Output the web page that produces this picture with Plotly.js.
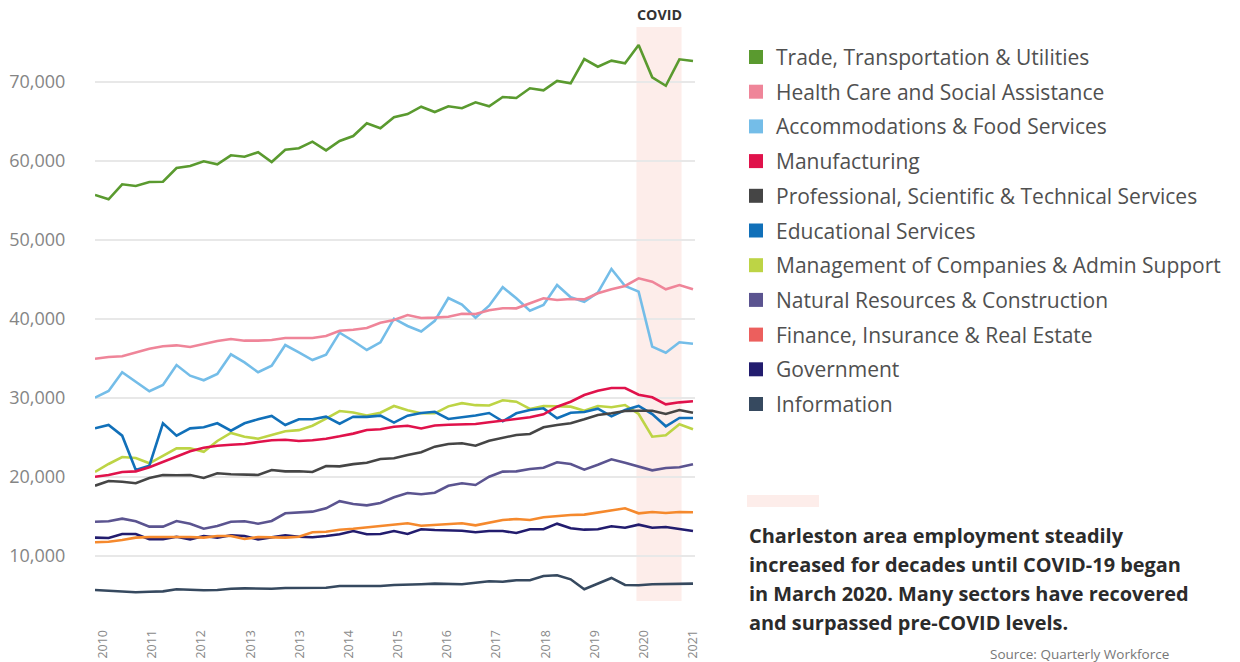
<!DOCTYPE html>
<html>
<head>
<meta charset="utf-8">
<script src="https://cdn.plot.ly/plotly-3.0.1.min.js"></script>
<style>
  html, body { margin: 0; padding: 0; background: #ffffff; }
  #chart { width: 1240px; height: 662px; }
</style>
</head>
<body>
<div id="chart"></div>
<script>
// Quarterly periods, 2010 Q1 .. 2021 Q1 (as decimal years)
const quarters = [
  2010.00, 2010.25, 2010.50, 2010.75, 2011.00, 2011.25, 2011.50, 2011.75,
  2012.00, 2012.25, 2012.50, 2012.75, 2013.00, 2013.25, 2013.50, 2013.75,
  2014.00, 2014.25, 2014.50, 2014.75, 2015.00, 2015.25, 2015.50, 2015.75,
  2016.00, 2016.25, 2016.50, 2016.75, 2017.00, 2017.25, 2017.50, 2017.75,
  2018.00, 2018.25, 2018.50, 2018.75, 2019.00, 2019.25, 2019.50, 2019.75,
  2020.00, 2020.25, 2020.50, 2020.75, 2021.00
];

const seriesNames = [
  "Trade, Transportation & Utilities",
  "Health Care and Social Assistance",
  "Accommodations & Food Services",
  "Manufacturing",
  "Professional, Scientific & Technical Services",
  "Educational Services",
  "Management of Companies & Admin Support",
  "Natural Resources & Construction",
  "Finance, Insurance & Real Estate",
  "Government",
  "Information"
];

const lineColors = ["#5a9a2f", "#ef8599", "#74bde8", "#e0124b", "#454545", "#1170b9",
                    "#bdd445", "#5b5490", "#f5892d", "#221c6e", "#36495f"];
const legendColors = ["#5a9a2f", "#ef8599", "#74bde8", "#e0124b", "#454545", "#1170b9",
                      "#bdd445", "#5b5490", "#ec5f5d", "#221c6e", "#36495f"];

const trade = [55670, 55120, 57020, 56810, 57310, 57350, 59080, 59340, 59930, 59550, 60690, 60510,
  61070, 59840, 61400, 61580, 62410, 61320, 62500, 63130, 64740, 64110, 65500, 65910, 66840, 66170,
  66890, 66640, 67390, 66890, 68070, 67940, 69170, 68910, 70090, 69800, 72870, 71900, 72660, 72330,
  74640, 70560, 69490, 72830, 72620];
const health = [34960, 35170, 35260, 35720, 36220, 36530, 36650, 36440, 36860, 37200, 37450, 37240,
  37240, 37320, 37580, 37540, 37580, 37830, 38500, 38630, 38840, 39510, 39860, 40490, 40110, 40150,
  40270, 40650, 40610, 41100, 41350, 41330, 41920, 42600, 42390, 42510, 42470, 43230, 43740, 44160,
  45130, 44700, 43740, 44280, 43740];
const accommodations = [30030, 30870, 33240, 32010, 30840, 31630, 34160, 32810, 32230, 33020, 35520, 34500,
  33240, 34070, 36690, 35770, 34790, 35470, 38250, 37200, 36060, 37030, 40020, 39100, 38400, 39750,
  42640, 41800, 40150, 41660, 44000, 42600, 41030, 41750, 44280, 42730, 42170, 43310, 46310, 44160,
  43440, 36480, 35720, 37030, 36860];
const manufacturing = [20030, 20250, 20630, 20710, 21220, 21890, 22650, 23250, 23700, 23950, 24080, 24170,
  24420, 24640, 24710, 24550, 24640, 24840, 25140, 25480, 25940, 26030, 26360, 26480, 26130, 26510,
  26610, 26610, 26700, 26910, 27120, 27330, 27540, 27930, 28890, 29520, 30370, 30910, 31250, 31250,
  30410, 30080, 29190, 29440, 29570];
const professional = [18890, 19490, 19400, 19200, 19870, 20250, 20210, 20250, 19870, 20460, 20340, 20250,
  20250, 20880, 20710, 20730, 20630, 21380, 21340, 21620, 21800, 22270, 22360, 22780, 23120, 23830,
  24170, 24260, 23950, 24590, 24970, 25310, 25430, 26280, 26570, 26790, 27290, 27840, 28050, 28340,
  28380, 28380, 27960, 28470, 28130];
const educational = [26150, 26570, 25220, 20880, 21420, 26790, 25220, 26150, 26280, 26790, 25850, 26790,
  27290, 27710, 26570, 27290, 27290, 27620, 26740, 27620, 27600, 27750, 26870, 27750, 28090, 28240,
  27330, 27540, 27770, 28090, 27040, 28050, 28470, 28680, 27420, 28130, 28220, 28630, 27670, 28470,
  28980, 27960, 26410, 27460, 27460];
const management = [20630, 21640, 22520, 22400, 21730, 22690, 23620, 23620, 23190, 24550, 25560, 25090,
  24840, 25310, 25780, 25920, 26480, 27370, 28340, 28150, 27770, 28130, 28980, 28430, 28050, 28050,
  28930, 29340, 29080, 29040, 29700, 29520, 28600, 28980, 28980, 28890, 28380, 28980, 28810, 29100,
  27960, 25090, 25270, 26660, 26030];
const naturalResources = [14340, 14390, 14720, 14390, 13710, 13710, 14430, 14090, 13450, 13800, 14340, 14390,
  14090, 14430, 15400, 15530, 15610, 16030, 16930, 16580, 16410, 16700, 17430, 17970, 17810, 18010,
  18890, 19200, 18980, 20030, 20670, 20710, 21010, 21170, 21850, 21640, 20920, 21550, 22230, 21800,
  21350, 20840, 21130, 21220, 21600];
const finance = [11730, 11810, 12020, 12320, 12400, 12400, 12440, 12400, 12320, 12530, 12530, 12150,
  12400, 12320, 12320, 12440, 13000, 13070, 13330, 13450, 13630, 13800, 14010, 14140, 13830, 13920,
  14010, 14140, 13880, 14210, 14550, 14680, 14550, 14900, 15060, 15190, 15230, 15480, 15820, 16030,
  15400, 15570, 15440, 15570, 15530];
const government = [12320, 12280, 12780, 12780, 12110, 12110, 12440, 12110, 12530, 12320, 12620, 12530,
  12110, 12320, 12620, 12440, 12370, 12530, 12760, 13160, 12750, 12780, 13160, 12780, 13380, 13290,
  13290, 13200, 13000, 13160, 13160, 12910, 13380, 13380, 14090, 13500, 13330, 13380, 13760, 13580,
  13960, 13580, 13670, 13450, 13160];
const information = [5700, 5610, 5480, 5410, 5480, 5530, 5790, 5700, 5660, 5700, 5860, 5910,
  5860, 5860, 5950, 5950, 5910, 5990, 6200, 6200, 6120, 6200, 6330, 6420, 6420, 6500,
  6420, 6420, 6620, 6800, 6750, 6930, 6930, 7470, 7560, 7050, 5790, 6550, 7220, 6330,
  6290, 6420, 6420, 6500, 6500];

const seriesValues = [trade, health, accommodations, manufacturing, professional, educational,
  management, naturalResources, finance, government, information];

// Axis tick labels (as printed on the original chart)
const xTickText = ["2010", "2011", "2012", "2013", "2013", "2014", "2015", "2016", "2017", "2018", "2019", "2020", "2021"];
const xTickVals = [2010.146, 2011.05, 2011.955, 2012.86, 2013.764, 2014.669, 2015.573, 2016.478, 2017.382, 2018.287, 2019.191, 2020.096, 2021.0];
const yTickVals = [10000, 20000, 30000, 40000, 50000, 60000, 70000];

const covidStart = 2019.96, covidEnd = 2020.79;

const descriptionLines = [
  "Charleston area employment steadily",
  "increased for decades until COVID-19 began",
  "in March 2020. Many sectors have recovered",
  "and surpassed pre-COVID levels."
];
const sourceText = "Source: Quarterly Workforce";

const FONT = "'Open Sans', Lato, sans-serif";

// plot area in pixels: left 95, right 695, top 27, bottom 601
const PL = 95, PR = 695, PT = 27, PB = 601;
const px2x = p => (p - PL) / (PR - PL);
const py2y = p => (PB - p) / (PB - PT);

// traces: drawn in reverse so the first series sits on top
const traces = seriesNames.map((name, i) => ({
  type: "scatter",
  mode: "lines",
  name: name,
  x: quarters,
  y: seriesValues[i],
  line: { color: lineColors[i], width: 2.6 },
  hoverinfo: "x+y+name",
  showlegend: false
})).reverse();

const shapes = [
  { type: "rect", xref: "x", yref: "paper", x0: covidStart, x1: covidEnd, y0: 0, y1: 1,
    fillcolor: "#fdedea", line: { width: 0 }, layer: "below" },
  { type: "rect", xref: "paper", yref: "paper", x0: px2x(747), x1: px2x(819), y0: py2y(507), y1: py2y(495),
    fillcolor: "#fdedea", line: { width: 0 } }
];

const sizes = { covid: 13.5, source: 12.5, legend: 20, desc: 19, ytick: 18, xtick: 12.5 };

const annotations = [
  { xref: "x", yref: "paper", x: (covidStart + covidEnd) / 2, y: py2y(14), text: "<b>COVID</b>",
    showarrow: false, xanchor: "center", yanchor: "middle",
    font: { family: FONT, size: sizes.covid, color: "#333333" } },
  { xref: "paper", yref: "paper", x: px2x(1171), y: py2y(654), text: sourceText,
    showarrow: false, xanchor: "right", yanchor: "middle",
    font: { family: FONT, size: sizes.source, color: "#777777" } }
];

const rowY0 = 57, rowStep = 34.7;
seriesNames.forEach((name, i) => {
  const cy = rowY0 + i * rowStep;
  shapes.push({ type: "rect", xref: "paper", yref: "paper",
    x0: px2x(749), x1: px2x(763), y0: py2y(cy + 7), y1: py2y(cy - 7),
    fillcolor: legendColors[i], line: { width: 0 } });
  annotations.push({ xref: "paper", yref: "paper", x: px2x(774), y: py2y(cy), text: name,
    showarrow: false, xanchor: "left", yanchor: "middle",
    font: { family: FONT, size: sizes.legend, color: "#505050" } });
});

const lineYs = [535, 564, 593, 622];
descriptionLines.forEach((t, i) => {
  annotations.push({ xref: "paper", yref: "paper", x: px2x(747), y: py2y(lineYs[i]), text: "<b>" + t + "</b>",
    showarrow: false, xanchor: "left", yanchor: "middle",
    font: { family: FONT, size: sizes.desc, color: "#2b2b2b" } });
});

const layout = {
  width: 1240, height: 662,
  margin: { l: PL, r: 1240 - PR, t: PT, b: 662 - PB, pad: 0 },
  paper_bgcolor: "#ffffff", plot_bgcolor: "#ffffff",
  showlegend: false,
  font: { family: FONT, color: "#888888" },
  xaxis: {
    range: [2010, 2021.037], tickmode: "array", tickvals: xTickVals, ticktext: xTickText,
    tickangle: -90, showgrid: false, zeroline: false, showline: false,
    ticks: "outside", ticklen: 23, tickcolor: "rgba(0,0,0,0)",
    tickfont: { family: FONT, size: sizes.xtick, color: "#8a8a8a" }, fixedrange: true
  },
  yaxis: {
    range: [4307, 76920], tickmode: "array", tickvals: yTickVals, tickformat: ",d",
    showgrid: true, gridcolor: "#e8e8e8", gridwidth: 1.5, zeroline: false, showline: false,
    ticks: "outside", ticklen: 25, tickcolor: "rgba(0,0,0,0)",
    tickfont: { family: FONT, size: sizes.ytick, color: "#858585" }, fixedrange: true
  },
  shapes: shapes,
  annotations: annotations
};

const gd = document.getElementById("chart");
Plotly.newPlot(gd, traces, layout, { displayModeBar: false }).then(() => {
  // Fit annotation text sizes so rendered widths match the reference's text widths
  const clamp = (v, lo, hi) => Math.max(lo, Math.min(hi, v));
  const width = el => { try { return el ? el.getBBox().width : 0; } catch (e) { return 0; } };
  const fit = (el, cur, target, lo, hi) => { const w = width(el); return w > 0 ? clamp(cur * target / w, lo, hi) : cur; };
  const annText = k => gd.querySelector('.annotation[data-index="' + k + '"] .annotation-text');
  const upd = {};

  upd["annotations[0].font.size"] = fit(annText(0), sizes.covid, 45, 11, 15);
  upd["annotations[1].font.size"] = fit(annText(1), sizes.source, 180, 10, 13.5);

  const s1 = fit(annText(2), sizes.legend, 311, 18, 22);
  const s2 = fit(annText(2 + 6), sizes.legend, 449, 18, 22);
  const legendSize = (s1 + s2) / 2;
  for (let i = 0; i < seriesNames.length; i++) upd["annotations[" + (2 + i) + "].font.size"] = legendSize;

  const dIdx = 2 + seriesNames.length;
  const descSize = fit(annText(dIdx + 1), sizes.desc, 432, 17, 21);
  for (let i = 0; i < descriptionLines.length; i++) upd["annotations[" + (dIdx + i) + "].font.size"] = descSize;

  return Plotly.relayout(gd, upd);
});
</script>
</body>
</html>
